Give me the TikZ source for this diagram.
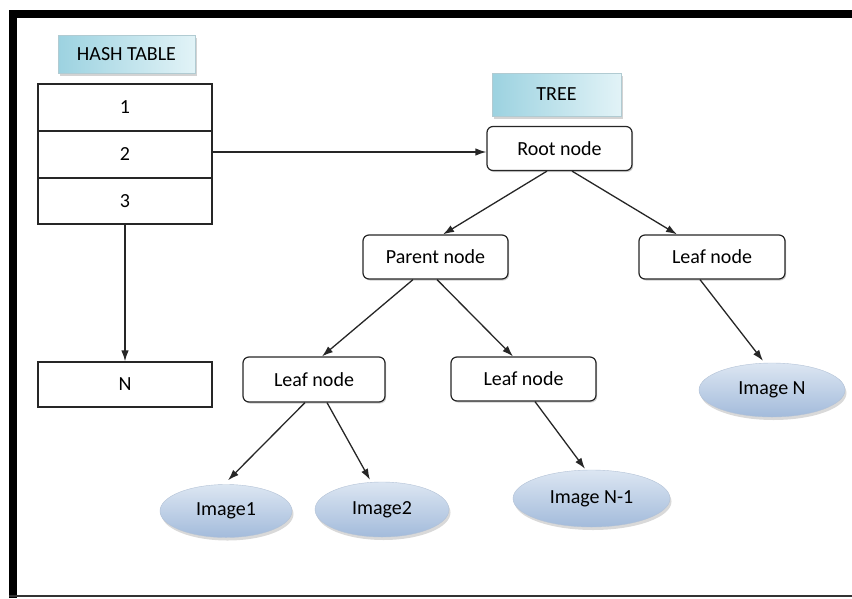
\documentclass[tikz,border=0pt]{standalone}
\usepackage{fontspec}
\setmainfont{Carlito}
\usetikzlibrary{arrows.meta,shadows,shapes.geometric}
\definecolor{lblA}{HTML}{9CD2E0}
\definecolor{lblB}{HTML}{E2F3F7}
\definecolor{ellA}{HTML}{A3BBDB}
\definecolor{ellB}{HTML}{DCE6F2}
\tikzset{
  cell/.style={draw=black!85, line width=1.3pt, minimum width=174pt, inner sep=0pt,
    font=\fontsize{20}{22}\selectfont},
  labelbox/.style={draw=lblA!80!black!60, line width=0.6pt, left color=lblA, right color=lblB,
    inner sep=0pt, font=\fontsize{20}{22}\selectfont,
    drop shadow={shadow xshift=2pt, shadow yshift=-3pt, opacity=0.35}},
  treebox/.style={draw=black!85, line width=1.2pt, rounded corners=6pt, fill=white, inner sep=0pt,
    minimum width=145pt, minimum height=44pt, font=\fontsize{20}{22}\selectfont,
    drop shadow={shadow xshift=1.2pt, shadow yshift=-1.5pt, opacity=0.4}},
  imgnode/.style={ellipse, inner sep=0pt, top color=ellB, bottom color=ellA, draw=ellA!90!black!70, line width=0.4pt,
    font=\fontsize{20}{22}\selectfont,
    drop shadow={shadow xshift=1.5pt, shadow yshift=-3pt, opacity=0.3}},
  conn/.style={line width=1.3pt, draw=black!85, -{Latex[length=11pt,width=7.5pt]}},
}
\begin{document}
\begin{tikzpicture}[x=1pt,y=-1pt]
\useasboundingbox (0,0) rectangle (852,598);
% frame
\draw[line width=8pt] (12.5,598) -- (12.5,13.5) -- (855,13.5);
\draw[line width=2pt, black!80] (9,596) -- (852,596);
% hash table
\node[labelbox, minimum width=137pt, minimum height=38pt] (hashlbl) at (126.5,54) {HASH TABLE};
\node[cell, minimum height=47pt] (ht1) at (125,107.5) {1};
\node[cell, minimum height=47pt] (ht2) at (125,154.5) {2};
\node[cell, minimum height=46pt] (ht3) at (125,201) {3};
\node[cell, minimum height=45pt] (htn) at (125,384.5) {N};
% tree
\node[labelbox, minimum width=129pt, minimum height=43pt] (treelbl) at (556.5,94.5) {TREE};
\node[treebox] (root) at (559.5,148.5) {Root node};
\node[treebox] (parent) at (435.5,257) {Parent node};
\node[treebox, minimum width=146pt] (leafR) at (712,257) {Leaf node};
\node[treebox, minimum width=142pt, minimum height=45pt] (leafL) at (314,379.5) {Leaf node};
\node[treebox] (leafM) at (523.5,379) {Leaf node};
\node[imgnode, minimum width=132pt, minimum height=53pt] (img1) at (226,511) {Image1};
\node[imgnode, minimum width=134pt, minimum height=55pt] (img2) at (382,509.5) {Image2};
\node[imgnode, minimum width=157pt, minimum height=57pt] (imgN1) at (591.5,498.5) {Image N-1};
\node[imgnode, minimum width=146pt, minimum height=54pt] (imgN) at (772,390) {Image N};
% connectors
\draw[conn] ([yshift=2.5pt]ht2.east) -- ([yshift=-3.5pt]root.west);
\draw[conn] (ht3.south) -- (htn.north);
\draw[conn] ([xshift=-12.5pt]root.south) -- ([xshift=7.5pt]parent.north);
\draw[conn] ([xshift=12.5pt]root.south) -- ([xshift=-35pt]leafR.north);
\draw[conn] ([xshift=-22.5pt]parent.south) -- ([xshift=8pt]leafL.north);
\draw[conn] ([xshift=1.5pt]parent.south) -- ([xshift=-10.5pt]leafM.north);
\draw[conn] ([xshift=-9pt]leafL.south) -- ([xshift=2pt,yshift=4pt]img1.north);
\draw[conn] ([xshift=13pt]leafL.south) -- ([xshift=-12pt,yshift=2pt]img2.north);
\draw[conn] ([xshift=11.5pt]leafM.south) -- ([xshift=-6.5pt,yshift=1pt]imgN1.north);
\draw[conn] ([xshift=-12pt]leafR.south) -- ([xshift=-9pt,yshift=2pt]imgN.north);
\end{tikzpicture}
\end{document}
